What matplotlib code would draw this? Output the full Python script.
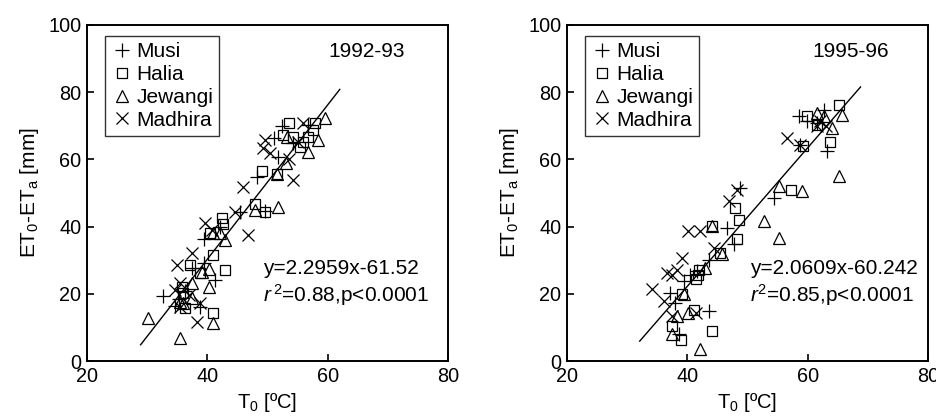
import matplotlib
matplotlib.use('Agg')
import matplotlib.pyplot as plt
import numpy as np

plt.rcParams['font.family'] = ['Liberation Sans', 'DejaVu Sans']
plt.rcParams['mathtext.fontset'] = 'custom'
plt.rcParams['mathtext.rm'] = 'Liberation Sans'
plt.rcParams['mathtext.it'] = 'Liberation Sans:italic'
plt.rcParams['mathtext.default'] = 'regular'

# ---- 1992-93 ----
musi_92_x = [32.7, 34.7, 36.3, 37.4, 39.4, 41.3, 38.8, 39.4, 42.1, 45.4, 48.2, 49.6, 51.0, 52.4, 51.8, 54.3, 56.8, 35.3]
musi_92_y = [19.3, 16.4, 20.8, 27.6, 36.2, 24.1, 16.2, 29.1, 40.0, 44.4, 54.9, 44.7, 66.3, 69.9, 60.8, 64.8, 70.2, 18.5]
halia_92_x = [36.0, 36.3, 37.1, 38.8, 41.0, 41.0, 40.5, 42.4, 42.6, 43.0, 47.9, 49.6, 49.0, 51.5, 53.5, 52.6, 54.3, 55.4, 55.9, 56.8, 57.9, 57.6, 35.8]
halia_92_y = [20.1, 15.7, 28.6, 26.1, 31.5, 14.2, 38.0, 42.5, 40.8, 27.1, 46.7, 44.4, 56.6, 55.8, 70.9, 67.3, 66.8, 63.8, 65.3, 66.8, 70.9, 68.8, 22.1]
jew_92_x = [30.2, 35.5, 35.5, 37.4, 37.4, 39.1, 40.2, 40.2, 41.0, 41.0, 42.1, 43.0, 47.9, 51.8, 51.5, 53.0, 53.2, 56.8, 58.4, 59.5, 36.0]
jew_92_y = [12.7, 6.7, 17.7, 23.1, 18.7, 26.6, 27.3, 22.1, 11.2, 38.0, 38.0, 36.0, 44.9, 45.9, 55.8, 58.8, 66.8, 62.3, 65.8, 72.2, 17.2]
mad_92_x = [34.9, 34.7, 35.5, 37.4, 38.3, 38.8, 39.6, 40.7, 44.6, 46.0, 46.8, 49.6, 49.3, 50.4, 54.3, 53.5, 55.9, 55.1, 35.5, 36.9]
mad_92_y = [28.6, 21.1, 16.2, 32.0, 11.7, 17.2, 41.0, 39.0, 44.4, 51.9, 37.5, 65.8, 63.3, 61.8, 53.9, 60.0, 70.7, 65.3, 23.1, 19.6]

# ---- 1995-96 ----
musi_95_x = [37.2, 38.0, 38.6, 40.5, 41.6, 43.6, 43.6, 46.6, 47.7, 48.8, 54.4, 58.5, 58.8, 59.9, 62.7, 63.2, 61.6, 39.4]
musi_95_y = [20.3, 17.3, 7.9, 25.7, 26.7, 14.9, 30.2, 39.6, 34.7, 51.5, 48.5, 72.8, 64.4, 71.3, 74.8, 62.4, 70.8, 23.8]
halia_95_x = [37.5, 38.9, 39.1, 41.2, 41.5, 42.0, 44.1, 44.1, 45.5, 48.0, 48.2, 48.6, 57.2, 59.2, 59.9, 61.6, 63.8, 65.2, 41.8]
halia_95_y = [10.4, 6.4, 19.8, 15.3, 24.3, 27.2, 40.1, 8.9, 32.2, 45.5, 36.3, 42.1, 51.0, 63.9, 72.8, 70.3, 65.3, 76.2, 25.7]
jew_95_x = [37.5, 38.3, 39.4, 40.2, 42.2, 43.0, 44.1, 45.8, 52.7, 55.2, 55.2, 59.1, 61.6, 64.1, 65.2, 65.8, 62.7]
jew_95_y = [7.9, 13.4, 19.8, 14.4, 3.5, 27.7, 40.1, 31.7, 41.6, 36.6, 52.0, 50.5, 73.8, 69.3, 55.0, 73.3, 72.8]
mad_95_x = [34.1, 36.1, 36.6, 37.5, 38.3, 39.1, 37.5, 40.2, 42.2, 41.4, 44.4, 46.9, 48.3, 56.6, 58.8, 61.6, 62.1, 63.0]
mad_95_y = [21.3, 17.8, 26.2, 25.7, 27.2, 30.7, 13.4, 38.6, 38.6, 14.4, 33.7, 47.5, 51.0, 66.3, 64.4, 69.8, 71.3, 69.8]

panels = [
    dict(data=[(musi_92_x, musi_92_y), (halia_92_x, halia_92_y), (jew_92_x, jew_92_y), (mad_92_x, mad_92_y)],
         slope=2.2959, icept=-61.52, xr=(28.9, 62.0), year='1992-93', yx=66.5, ex=49.3,
         eq='y=2.2959x-61.52', r2=r'$\mathit{r}^{\,2}$=0.88,p<0.0001'),
    dict(data=[(musi_95_x, musi_95_y), (halia_95_x, halia_95_y), (jew_95_x, jew_95_y), (mad_95_x, mad_95_y)],
         slope=2.0609, icept=-60.242, xr=(32.1, 68.8), year='1995-96', yx=67.2, ex=50.5,
         eq='y=2.0609x-60.242', r2=r'$\mathit{r}^{2}$=0.85,p<0.0001'),
]
labels = ['Musi', 'Halia', 'Jewangi', 'Madhira']
markers = ['+', 's', '^', 'x']
sizes = [10, 7.5, 8.5, 9]

fig = plt.figure(figsize=(9.37, 4.19), dpi=100)
lefts = [0.0929, 0.605]
for p, left in zip(panels, lefts):
    ax = fig.add_axes([left, 0.1384, 0.3853, 0.802])
    for (x, y), m, lab, s in zip(p['data'], markers, labels, sizes):
        ax.plot(x, y, linestyle='none', marker=m, markersize=s, markerfacecolor='none',
                markeredgecolor='black', markeredgewidth=0.9, label=lab)
    lx = np.array(p['xr'])
    ax.plot(lx, p['slope'] * lx + p['icept'], color='black', linewidth=1.0)
    ax.set_xlim(20, 80)
    ax.set_ylim(0, 100)
    ax.set_xticks([20, 40, 60, 80])
    ax.set_yticks([0, 20, 40, 60, 80, 100])
    ax.tick_params(direction='in', length=5, width=1.2, labelsize=14.3, pad=4)
    for sp in ax.spines.values():
        sp.set_linewidth(1.4)
    ax.set_xlabel('T$_0$ [ºC]', fontsize=14.5, labelpad=4)
    ax.set_ylabel('ET$_0$-ET$_a$ [mm]', fontsize=15, labelpad=5)
    ax.text(p['yx'], 92, p['year'], fontsize=15, ha='center', va='center')
    ax.text(p['ex'], 27.4, p['eq'], fontsize=15, ha='left', va='center')
    ax.text(p['ex'], 19.6, p['r2'], fontsize=15, ha='left', va='center')
    leg = ax.legend(loc='upper left', bbox_to_anchor=(0.05, 0.967), borderaxespad=0,
                    fontsize=15, frameon=True, fancybox=False, edgecolor='black',
                    handlelength=1.0, handletextpad=0.2, labelspacing=0.18,
                    borderpad=0.3, markerscale=0.95)
    leg.get_frame().set_linewidth(1.0)

plt.savefig('out.png', dpi=100)
